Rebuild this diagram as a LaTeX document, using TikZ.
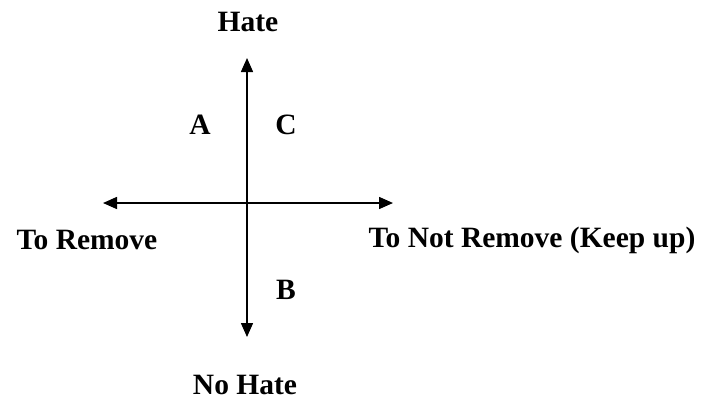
\documentclass[tikz,border=0pt]{standalone}
\usepackage{fontspec}
\setmainfont{Liberation Serif}
\usetikzlibrary{arrows.meta}
\begin{document}
\begin{tikzpicture}[x=1pt,y=-1pt,
  lbl/.style={font=\fontsize{29.5}{34}\selectfont\bfseries, inner sep=0pt, anchor=center},
  axis/.style={line width=1.5pt, -{Triangle[length=14pt,width=12pt]}}]
\useasboundingbox (0,0) rectangle (701,405);
\coordinate (o) at (247,203);
\coordinate (top) at (247,58);
\coordinate (bot) at (247,337);
\coordinate (left) at (103,203);
\coordinate (right) at (393,203);
\draw[axis] (o) -- (top);
\draw[axis] (o) -- (bot);
\draw[axis] (o) -- (left);
\draw[axis] (o) -- (right);
\node[lbl] (hate) at (248,22) {Hate};
\node[lbl] (nohate) at (245,385) {No Hate};
\node[lbl] (rem) at (87,240) {To Remove};
\node[lbl] (notrem) at (532,240) {To Not Remove (Keep up)};
\node[lbl] (a) at (200,125) {A};
\node[lbl] (c) at (286,125) {C};
\node[lbl] (b) at (286,290) {B};
\end{tikzpicture}
\end{document}
